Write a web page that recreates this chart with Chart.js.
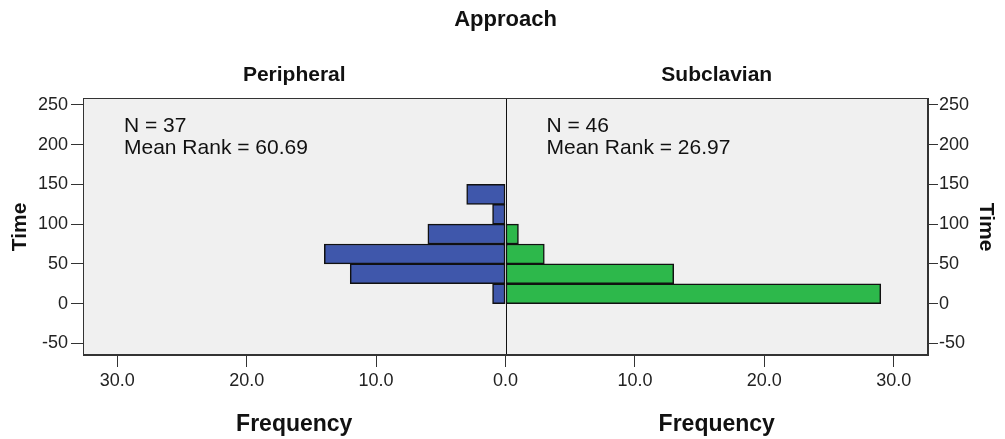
<!DOCTYPE html>
<html>
<head>
<meta charset="utf-8">
<script src="https://cdn.jsdelivr.net/npm/chart.js@4.4.1/dist/chart.umd.min.js"></script>
<style>
  html, body { margin: 0; padding: 0; background: #fff; }
  #wrap { width: 1005px; height: 439px; }
</style>
</head>
<body>
<div id="wrap"><canvas id="pyramid"></canvas></div>
<script>
// bins of Time (width 25), counts per approach
const binStarts = [0, 25, 50, 75, 100, 125];
const binWidth = 25;
const peripheral = [1, 12, 14, 6, 1, 3];
const subclavian = [29, 13, 3, 1, 0, 0];
const groups = ['Peripheral', 'Subclavian'];
const groupN = [37, 46];
const meanRanks = [60.69, 26.97];
const timeTicks = [-50, 0, 50, 100, 150, 200, 250];
const freqTicks = [-30, -20, -10, 0, 10, 20, 30];

const FONT = '"Liberation Sans", Arial, sans-serif';

function toPoints(counts, sign) {
    return counts.map((c, i) => ({ y: binStarts[i] + binWidth / 2, x: c ? sign * c : null }));
}

// plot frame, background, centre line and the free texts
const decor = {
    id: 'decor',
    beforeDatasetsDraw(chart) {
        const { ctx, chartArea: a } = chart;
        ctx.save();
        ctx.fillStyle = '#f0f0f0';
        ctx.fillRect(a.left, a.top, a.right - a.left, a.bottom - a.top);
        ctx.restore();
    },
    afterDatasetsDraw(chart) {
        const { ctx, chartArea: a, scales } = chart;
        const x0 = scales.x.getPixelForValue(0);
        ctx.save();
        ctx.strokeStyle = '#111';
        ctx.lineWidth = 1;
        ctx.beginPath();
        ctx.moveTo(Math.round(x0) + 0.5, a.top);
        ctx.lineTo(Math.round(x0) + 0.5, a.bottom);
        ctx.stroke();
        ctx.strokeStyle = '#333';
        ctx.strokeRect(a.left + 0.5, a.top + 0.5, a.right - a.left - 1, a.bottom - a.top - 1);

        const midL = (a.left + x0) / 2;
        const midR = (x0 + a.right) / 2;
        ctx.fillStyle = '#111';
        ctx.textAlign = 'center';
        ctx.textBaseline = 'middle';
        ctx.font = 'bold 22px ' + FONT;
        ctx.fillText('Approach', (a.left + a.right) / 2, 20);
        ctx.font = 'bold 21px ' + FONT;
        ctx.fillText(groups[0], midL, 75);
        ctx.fillText(groups[1], midR, 75);
        ctx.font = 'bold 23px ' + FONT;
        ctx.fillText('Frequency', midL, 425);
        ctx.fillText('Frequency', midR, 425);

        // axis titles
        ctx.font = 'bold 21px ' + FONT;
        ctx.save();
        ctx.translate(20, 227);
        ctx.rotate(-Math.PI / 2);
        ctx.fillText('Time', 0, 0);
        ctx.restore();
        ctx.save();
        ctx.translate(986, 227);
        ctx.rotate(Math.PI / 2);
        ctx.fillText('Time', 0, 0);
        ctx.restore();

        // group statistics
        ctx.font = '21px ' + FONT;
        ctx.textAlign = 'left';
        const starts = [a.left + 41, x0 + 41];
        for (let g = 0; g < 2; g++) {
            ctx.fillText('N = ' + groupN[g], starts[g], 126);
            ctx.fillText('Mean Rank = ' + meanRanks[g].toFixed(2), starts[g], 148);
        }
        ctx.restore();
    }
};

const tickFont = { family: FONT, size: 18 };

const chart = new Chart(document.getElementById('pyramid'), {
    type: 'bar',
    data: {
        datasets: [{
            label: groups[0],
            data: toPoints(peripheral, -1),
            backgroundColor: '#3f57ab',
            borderColor: '#111',
            borderWidth: 1.5,
            borderSkipped: false
        }, {
            label: groups[1],
            data: toPoints(subclavian, 1),
            backgroundColor: '#2db84b',
            borderColor: '#111',
            borderWidth: 1.5,
            borderSkipped: false
        }]
    },
    options: {
        indexAxis: 'y',
        responsive: true,
        maintainAspectRatio: false,
        animation: false,
        grouped: false,
        barPercentage: 1,
        categoryPercentage: 1,
        layout: { padding: { top: 98, left: 0, right: 0, bottom: 0 } },
        plugins: {
            legend: { display: false },
            tooltip: {
                callbacks: {
                    label: function(item) {
                        return `${item.dataset.label}: ${Math.abs(item.raw.x)}`;
                    }
                }
            }
        },
        scales: {
            x: {
                type: 'linear',
                min: -32.65,
                max: 32.65,
                afterBuildTicks: s => { s.ticks = freqTicks.map(v => ({ value: v })); },
                afterFit: s => { s.height = 84; },
                ticks: {
                    color: '#222',
                    font: tickFont,
                    padding: 3,
                    callback: v => Math.abs(v).toFixed(1)
                },
                grid: { drawOnChartArea: false, tickLength: 12, color: '#333' },
                border: { color: '#333' }
            },
            y: {
                type: 'linear',
                position: 'left',
                offset: false,
                min: -64.7,
                max: 258.8,
                afterBuildTicks: s => { s.ticks = timeTicks.map(v => ({ value: v })); },
                afterFit: s => { s.width = 83; },
                ticks: { color: '#222', font: tickFont, padding: 3 },
                grid: { offset: false, drawOnChartArea: false, tickLength: 12, color: '#333' },
                border: { color: '#333' }
            },
            y2: {
                type: 'linear',
                position: 'right',
                offset: false,
                min: -64.7,
                max: 258.8,
                afterBuildTicks: s => { s.ticks = timeTicks.map(v => ({ value: v })); },
                afterFit: s => { s.width = 77; },
                ticks: { color: '#222', font: tickFont, padding: 1 },
                grid: { offset: false, drawOnChartArea: false, tickLength: 10, color: '#333' },
                border: { color: '#333' }
            }
        }
    },
    plugins: [decor]
});
</script>
</body>
</html>
